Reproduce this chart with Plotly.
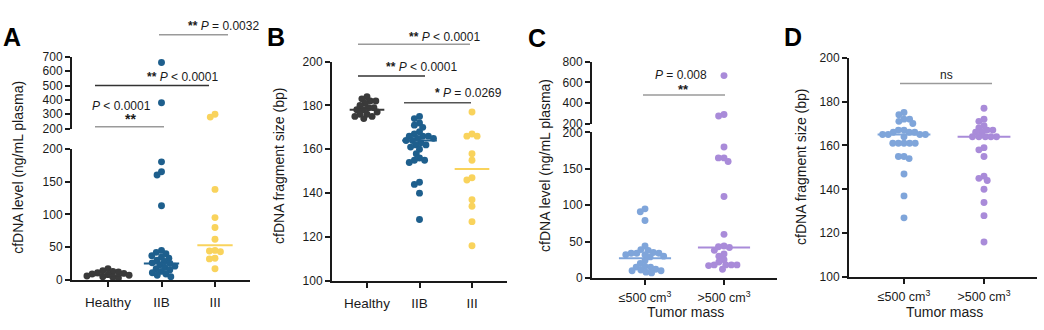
import numpy as np
import plotly.graph_objects as go

W, H = 1044, 330
FONT = "Liberation Sans, Arial, Helvetica, sans-serif"
INK = "#1a1a1a"

# ---------------- data ----------------
stage_categories = ["Healthy", "IIB", "III"]
mass_categories = ["≤500 cm<sup>3</sup>", ">500 cm<sup>3</sup>"]

# Panel A: cfDNA level (ng/mL plasma) by stage
A_healthy = [17, 14, 13, 12, 11, 10, 9, 8, 7, 6, 5, 4, 3]
A_iib = [660, 380, 180, 165, 160, 113, 45, 42, 40, 37, 35, 33, 30, 28, 26,
         25, 23, 21, 19, 17, 15, 13, 11, 9, 7, 5]
A_iii = [300, 280, 138, 95, 80, 62, 45, 44, 43, 33, 32, 17]
A_medians = [7, 25, 53]

# Panel B: cfDNA fragment size (bp) by stage
B_healthy = [184, 183, 182, 182, 181, 180, 179, 179, 178, 178, 177, 176, 176, 175, 175, 174]
B_iib = [175, 174, 172, 171, 170, 168, 167, 166, 166, 166, 165, 165, 164,
         164, 163, 162, 162, 161, 160, 158, 156, 155, 155, 154, 145, 144, 140, 128]
B_iii = [177, 167, 166, 166, 158, 155, 147, 146, 137, 134, 127, 116]
B_medians = [178, 164, 151]

# Panel C: cfDNA level by tumor mass
C_low = [95, 91, 79, 44, 39, 38, 35, 34, 34, 34, 32, 32, 30, 29, 24, 20, 16, 15, 15,
         12, 11, 10, 10, 8, 7]
C_high = [665, 290, 275, 180, 165, 165, 160, 112, 60, 44, 43, 42, 38, 33, 30, 25, 22,
          18, 18, 18, 18, 17, 12]
C_medians = [27, 42]

# Panel D: fragment size by tumor mass
D_low = [175, 174, 172, 172, 171, 170, 167, 167, 166, 166, 166, 165, 165, 165, 165, 164,
         161, 161, 161, 161, 161, 155, 154, 155, 147, 137, 127]
D_high = [177, 172, 171, 169, 168, 167, 167, 166, 166, 164, 164, 164, 164, 164, 159, 158,
          155, 146, 145, 144, 140, 134, 128, 116]
D_medians = [165, 164]

stage_colors = ["#3a3a3a", "#1e5f8d", "#f9d35c"]
mass_colors = ["#7fa5da", "#a98bd9"]

# ---------------- geometry (pixels) ----------------
GEO = {
    "A": dict(x0=72, x1=250, first=108, step=53.5, standoff=4,
              segs=[dict(top=148, bot=285, rng=[0, 200], ticks=[0, 50, 100, 150, 200]),
                    dict(top=52, bot=127, rng=[200, 700], ticks=[200, 300, 400, 500, 600, 700])]),
    "B": dict(x0=332, x1=507, first=367, step=52.5, standoff=4,
              segs=[dict(top=57, bot=286, rng=[100, 200], ticks=[100, 120, 140, 160, 180, 200])]),
    "C": dict(x0=592, x1=777, first=645, step=79, standoff=2,
              segs=[dict(top=131, bot=283, rng=[0, 200], ticks=[0, 50, 100, 150, 200]),
                    dict(top=57, bot=122, rng=[200, 800], ticks=[200, 400, 600, 800])]),
    "D": dict(x0=849, x1=1037, first=904, step=80, standoff=2,
              segs=[dict(top=53, bot=282, rng=[100, 200], ticks=[100, 120, 140, 160, 180, 200])]),
}


def pxx(p):
    return p / W


def pxy(p):
    return 1 - p / H


def swarm(values, px_per_unit, diam=5.6):
    vals = np.asarray(values, dtype=float)
    order = np.argsort(-vals, kind="stable")
    placed = []
    offs = np.zeros(len(vals))
    for i in order:
        y = vals[i] * px_per_unit
        cands = [0.0]
        for (px, py) in placed:
            dy = abs(py - y)
            if dy < diam:
                dx = np.sqrt(diam ** 2 - dy ** 2)
                cands += [px + dx, px - dx]
        cands.sort(key=lambda c: (round(abs(c), 6), c))
        chosen = cands[-1]
        for c in cands:
            if all((c - px) ** 2 + (y - py) ** 2 >= diam ** 2 - 1e-6 for px, py in placed):
                chosen = c
                break
        placed.append((chosen, y))
        offs[i] = chosen
    return offs


fig = go.Figure()
layout = dict(width=W, height=H, margin=dict(l=0, r=0, t=0, b=0), autosize=False,
              paper_bgcolor="white", plot_bgcolor="rgba(0,0,0,0)", showlegend=False,
              font=dict(family=FONT, color=INK))

axis_common = dict(showline=True, linewidth=2, linecolor=INK, ticks="outside", ticklen=5,
                   tickwidth=2, tickcolor=INK, showgrid=False, zeroline=False,
                   fixedrange=True)

panels = [
    ("A", stage_categories, [A_healthy, A_iib, A_iii], A_medians, stage_colors, 13.5),
    ("B", stage_categories, [B_healthy, B_iib, B_iii], B_medians, stage_colors, 13.5),
    ("C", mass_categories, [C_low, C_high], C_medians, mass_colors, 12.5),
    ("D", mass_categories, [D_low, D_high], D_medians, mass_colors, 12.5),
]

xi = 0
yi = 0
for key, cats, groups, medians, colors, xfs in panels:
    g = GEO[key]
    xi += 1
    xname = "x" if xi == 1 else f"x{xi}"
    xlay = "xaxis" if xi == 1 else f"xaxis{xi}"
    seg_names = []
    for s_idx, seg in enumerate(g["segs"]):
        yi += 1
        yname = "y" if yi == 1 else f"y{yi}"
        ylay = "yaxis" if yi == 1 else f"yaxis{yi}"
        seg_names.append(yname)
        layout[ylay] = dict(axis_common, domain=[pxy(seg["bot"]), pxy(seg["top"])],
                            range=seg["rng"], anchor=xname, tickmode="array",
                            tickvals=seg["ticks"], ticktext=[str(t) for t in seg["ticks"]],
                            tickfont=dict(size=12, family=FONT, color=INK))
    layout[xlay] = dict(axis_common, domain=[pxx(g["x0"]), pxx(g["x1"])],
                        range=[(g["x0"] - g["first"]) / g["step"], (g["x1"] - g["first"]) / g["step"]],
                        anchor=seg_names[0], tickmode="array", tickvals=list(range(len(cats))),
                        ticktext=cats, ticklabelstandoff=g["standoff"],
                        tickfont=dict(size=xfs, family=FONT, color=INK))

    for ci, (vals, col) in enumerate(zip(groups, colors)):
        vals = np.asarray(vals, dtype=float)
        for s_idx, seg in enumerate(g["segs"]):
            lo, hi = seg["rng"]
            if len(g["segs"]) > 1:
                mask = (vals > lo) & (vals <= hi) if s_idx == 1 else (vals <= hi)
            else:
                mask = np.ones(len(vals), bool)
            sub = vals[mask]
            if len(sub) == 0:
                continue
            ppu = (seg["bot"] - seg["top"]) / (hi - lo)
            offs = swarm(sub, ppu)
            fig.add_trace(go.Scatter(x=ci + offs / g["step"], y=sub, mode="markers",
                                     marker=dict(size=6.9, color=col, line=dict(width=0)),
                                     xaxis=xname, yaxis=seg_names[s_idx], cliponaxis=False,
                                     hoverinfo="skip"))
        m = medians[ci]
        fig.add_trace(go.Scatter(x=[ci - 0.33, ci + 0.33], y=[m, m], mode="lines",
                                 line=dict(color=col, width=2), xaxis=xname,
                                 yaxis=seg_names[0], hoverinfo="skip"))

# ---------------- significance brackets ----------------
brackets = [
    (95, 164, 125, "#9a9a9a"), (95, 209, 82, "#333333"), (159, 228, 29, "#9a9a9a"),
    (358, 470, 39, "#9a9a9a"), (358, 425, 72, "#333333"), (404, 471, 100, "#555555"),
    (643, 725, 92, "#9a9a9a"),
    (900, 992, 80, "#9a9a9a"),
]
shapes = [dict(type="line", xref="paper", yref="paper", x0=pxx(a), x1=pxx(b), y0=pxy(y), y1=pxy(y),
               line=dict(color=c, width=1.5)) for a, b, y, c in brackets]
layout["shapes"] = shapes

ST = "<b>**</b>"
texts = [
    ("<i>P</i> &lt; 0.0001", 121, 103, "center", 12),
    (ST, 130, 117, "center", 14),
    (ST + " <i>P</i> &lt; 0.0001", 145, 73, "left", 12),
    (ST + " <i>P</i> = 0.0032", 186, 20, "left", 12),
    (ST + " <i>P</i> &lt; 0.0001", 407, 31, "left", 12),
    (ST + " <i>P</i> &lt; 0.0001", 384, 63, "left", 12),
    ("<b>*</b> <i>P</i> = 0.0269", 433, 90, "left", 12),
    ("<i>P</i> = 0.008", 681, 71, "center", 12),
    (ST, 683, 86, "center", 13),
    ("ns", 946, 71, "center", 12),
]
annotations = [dict(text=t, x=pxx(x), y=pxy(y), xref="paper", yref="paper", xanchor=xa,
                    yanchor="middle", showarrow=False, font=dict(size=s, family=FONT, color=INK))
               for t, x, y, xa, s in texts]

for lab, x, y in [("A", 12, 31), ("B", 276, 31), ("C", 537, 32), ("D", 793, 31)]:
    annotations.append(dict(text=f"<b>{lab}</b>", x=pxx(x), y=pxy(y), xref="paper", yref="paper",
                            xanchor="center", yanchor="middle", showarrow=False,
                            font=dict(size=25, family=FONT, color="black")))

for t, x, y in [("cfDNA level (ng/mL plasma)", 18, 168), ("cfDNA fragment size (bp)", 279, 166),
                ("cfDNA level (ng/mL plasma)", 545, 166), ("cfDNA fragment size (bp)", 801, 167)]:
    annotations.append(dict(text=t, x=pxx(x), y=pxy(y), xref="paper", yref="paper", textangle=-90,
                            xanchor="center", yanchor="middle", showarrow=False,
                            font=dict(size=14, family=FONT, color=INK)))

for x, y in [(685, 319), (944, 319)]:
    annotations.append(dict(text="Tumor mass", x=pxx(x), y=pxy(y), xref="paper", yref="paper",
                            xanchor="center", yanchor="middle", showarrow=False,
                            font=dict(size=14, family=FONT, color=INK)))

layout["annotations"] = annotations
fig.update_layout(**layout)
fig.write_html("out.html", config={"displayModeBar": False, "staticPlot": True})
